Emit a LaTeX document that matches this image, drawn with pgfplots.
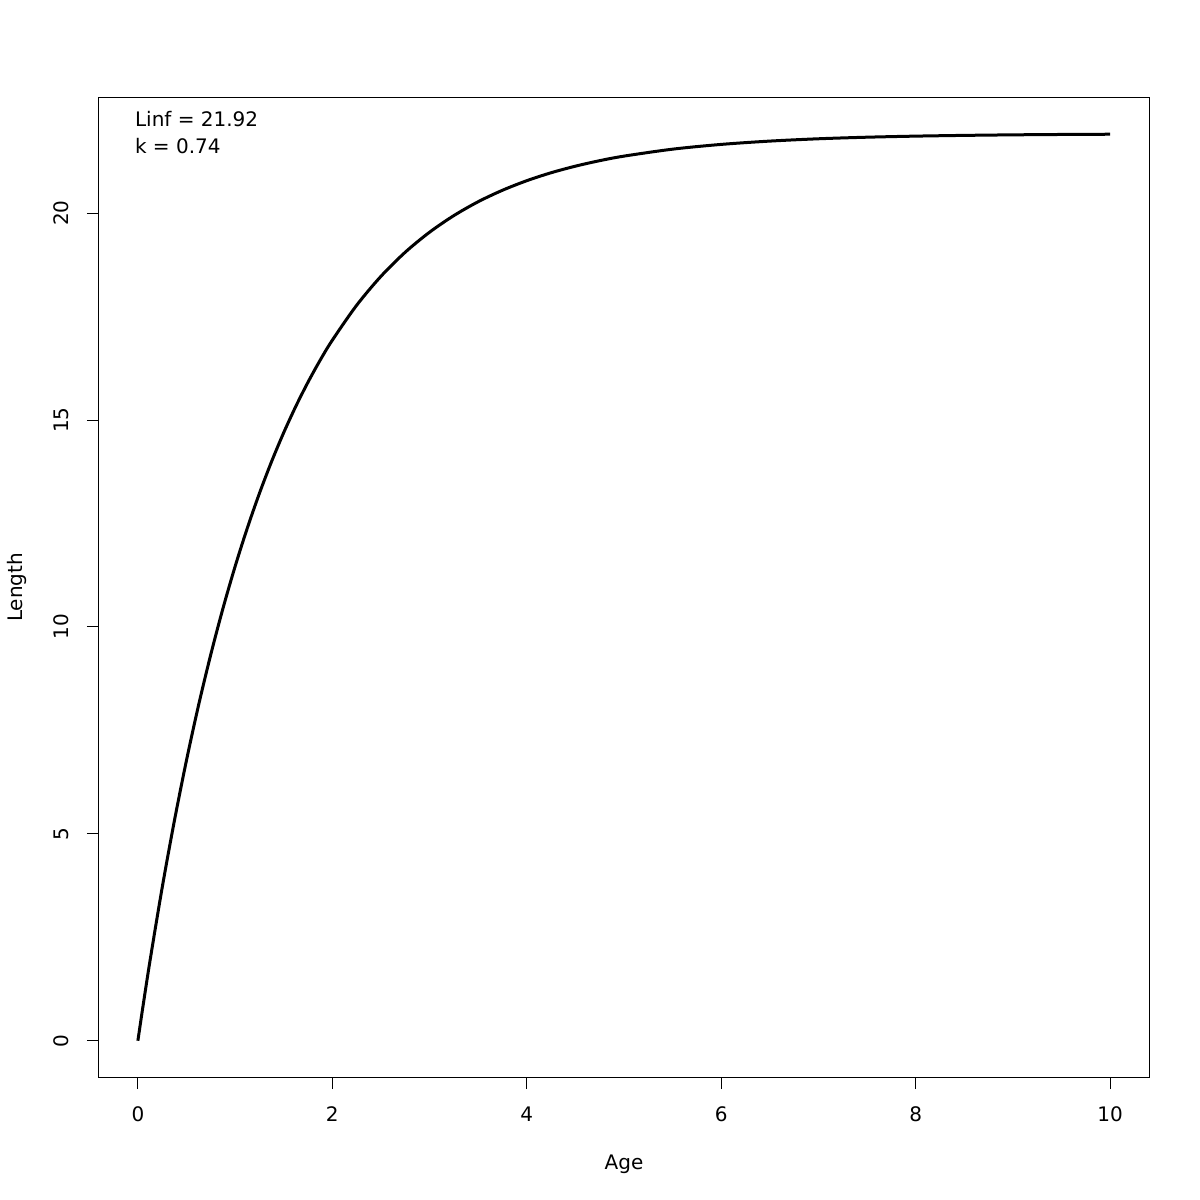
\documentclass[border=0pt]{standalone}
\usepackage{pgfplots}
\pgfplotsset{compat=1.18}
\usepackage{fontspec}
\setmainfont{DejaVu Sans}
\begin{document}
\fontsize{10pt}{12pt}\selectfont
\begin{tikzpicture}
\begin{axis}[
  name=ax,
  scale only axis,
  width=525pt, height=489.5pt,
  xmin=-0.4, xmax=10.4,
  ymin=-0.8763, ymax=22.7826,
  xtick={0,2,4,6,8,10},
  ytick={0,5,10,15,20},
  tick align=outside,
  major tick length=6pt,
  tick style={black, line width=0.5pt},
  axis line style={black, line width=0.5pt},
  xtick pos=bottom, ytick pos=left,
  /pgf/number format/assume math mode=true,
  tick label style={font=\fontsize{10pt}{12pt}\selectfont},
  xticklabel style={anchor=base, yshift=-16.3pt},
  yticklabel style={rotate=90, anchor=base, yshift=9pt},
  xlabel={Age}, ylabel={Length},
  label style={font=\fontsize{10pt}{12pt}\selectfont},
  xlabel style={at={(axis description cs:0.5,0)}, anchor=base, yshift=-46.3pt},
  ylabel style={at={(axis description cs:0,0.5)}, anchor=base, yshift=38pt},
  clip=false,
]
\addplot[black, line width=1.5pt, smooth, line join=round] coordinates {
(0,0) (0.05,0.796) (0.125,1.937) (0.25,3.702) (0.375,5.311) (0.5,6.779)
(0.625,8.118) (0.75,9.336) (0.875,10.448) (1,11.462) (1.125,12.386)
(1.25,13.228) (1.375,13.996) (1.5,14.696) (1.625,15.334) (1.75,15.916)
(1.875,16.447) (2,16.930) (2.25,17.773) (2.5,18.473) (2.75,19.056)
(3,19.539) (3.25,19.941) (3.5,20.276) (3.75,20.553) (4,20.784)
(4.25,20.976) (4.5,21.135) (4.75,21.268) (5,21.378) (5.5,21.546)
(6,21.661) (6.5,21.741) (7,21.797) (7.5,21.835) (8,21.861)
(8.5,21.879) (9,21.892) (9.5,21.901) (10,21.907)
};
\node[anchor=base west, xshift=14.5pt, yshift=-14.5pt] at (rel axis cs:0,1) {Linf = 21.92};
\node[anchor=base west, xshift=14.5pt, yshift=-27.8pt] at (rel axis cs:0,1) {k = 0.74};
\end{axis}
\pgfresetboundingbox
\path ([shift={(-49.5pt,-61.5pt)}]ax.south west) rectangle ([shift={(25.5pt,49pt)}]ax.north east);
\end{tikzpicture}
\end{document}
